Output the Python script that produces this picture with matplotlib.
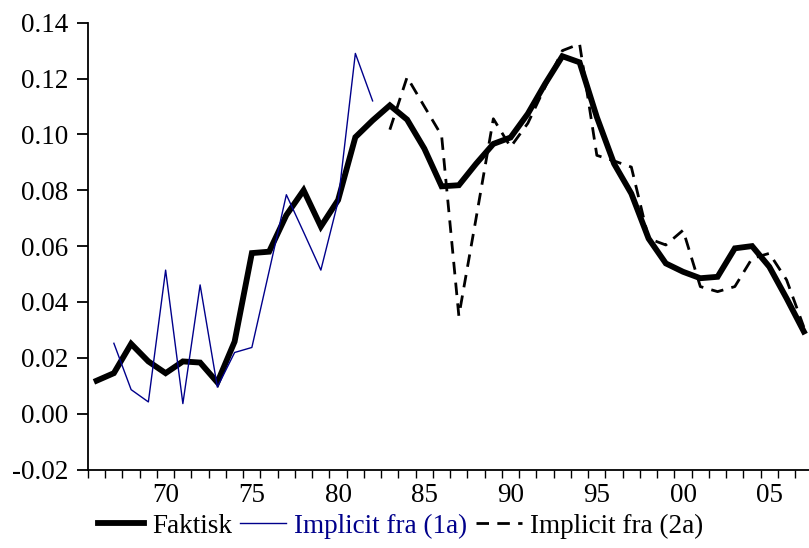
import numpy as np
import matplotlib
matplotlib.use("Agg")
import matplotlib.pyplot as plt
from matplotlib.ticker import FixedLocator, FixedFormatter

plt.rcParams['font.family'] = ['Liberation Serif', 'DejaVu Serif']

years = list(range(1966, 2008))
faktisk = [0.0118, 0.0145, 0.0250, 0.0187, 0.0145, 0.0187, 0.0183, 0.0112, 0.0258, 0.0575,
           0.0580, 0.0711, 0.0800, 0.0670, 0.0765, 0.0990, 0.1050, 0.1104, 0.1053, 0.0949,
           0.0814, 0.0818, 0.0895, 0.0966, 0.0989, 0.1074, 0.1181, 0.1280, 0.1258, 0.1062,
           0.0895, 0.0788, 0.0627, 0.0538, 0.0508, 0.0485, 0.0490, 0.0592, 0.0600, 0.0526,
           0.0413, 0.0294]

years_1a = list(range(1967, 1983))
implicit_1a = [0.0252, 0.0086, 0.0042, 0.0514, 0.0036, 0.0461, 0.0095, 0.0219, 0.0237, 0.0510,
               0.0784, 0.0650, 0.0514, 0.0760, 0.1290, 0.1120]

years_2a = list(range(1983, 2008))
implicit_2a = [0.1017, 0.1205, 0.1100, 0.0996, 0.0350, 0.0700, 0.1056, 0.0955, 0.1040, 0.1170,
               0.1300, 0.1324, 0.0925, 0.0905, 0.0883, 0.0627, 0.0604, 0.0657, 0.0455, 0.0437,
               0.0455, 0.0556, 0.0574, 0.0479, 0.0310]

x_tick_pos = [1970, 1975, 1980, 1985, 1990, 1995, 2000, 2005]
x_tick_labels = ['70', '75', '80', '85', '90', '95', '00', '05']
y_ticks = [-0.02, 0.00, 0.02, 0.04, 0.06, 0.08, 0.10, 0.12, 0.14]

W, H = 809, 548
fig = plt.figure(figsize=(W / 100, H / 100), dpi=100)
ax = fig.add_axes([88 / W, (H - 469.5) / H, (W - 88) / W, (469.5 - 22.7) / H])

ax.plot(years, faktisk, color='black', lw=4.2, solid_joinstyle='miter', label='Faktisk', zorder=3)
ax.plot(years_1a, implicit_1a, color='#00008B', lw=1.0, label='Implicit fra (1a)', zorder=4)
ax.plot(years_2a, implicit_2a, color='black', lw=2.0, dashes=(4.5, 3), label='Implicit fra (2a)', zorder=2)

ax.set_xlim(1965.5, 2007.3)
ax.set_ylim(-0.02, 0.14)

ax.spines['top'].set_visible(False)
ax.spines['right'].set_visible(False)
for s in ('left', 'bottom'):
    ax.spines[s].set_linewidth(1.3)

ax.set_yticks(y_ticks)
ax.set_yticklabels([f'{v:.2f}' for v in y_ticks])
ax.tick_params(axis='y', direction='out', length=8, width=1.3, pad=6, labelsize=19.5)

ax.xaxis.set_major_locator(FixedLocator(x_tick_pos))
ax.xaxis.set_major_formatter(FixedFormatter(x_tick_labels))
ax.xaxis.set_minor_locator(FixedLocator(np.arange(1965.5, 2008, 1.0)))
ax.tick_params(axis='x', which='major', length=0, pad=10, labelsize=19.5)
ax.tick_params(axis='x', which='minor', direction='out', length=5.5, width=1.0)

leg = fig.legend(loc='center', bbox_to_anchor=(0.495, 0.040), ncol=3, frameon=False,
                 fontsize=19.5, handlelength=1.7, handletextpad=0.3, columnspacing=0.3,
                 borderaxespad=0, borderpad=0)
leg.get_texts()[1].set_color('#00008B')

fig.savefig('out.png', dpi=100)
